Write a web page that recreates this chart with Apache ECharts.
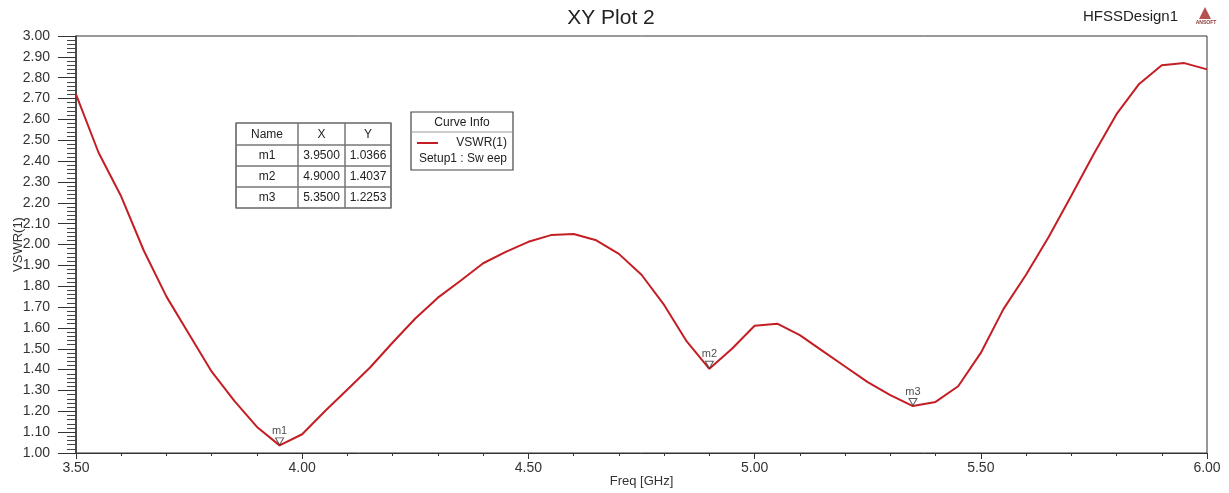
<!DOCTYPE html>
<html>
<head>
<meta charset="utf-8">
<script src="https://cdn.jsdelivr.net/npm/echarts@6/dist/echarts.min.js"></script>
<style>
html,body{margin:0;padding:0;background:#fff;}
#chart{width:1229px;height:493px;}
</style>
</head>
<body>
<div id="chart"></div>
<script>
// ---- data ----
var freq = [3.50,3.55,3.60,3.65,3.70,3.75,3.80,3.85,3.90,3.95,
            4.00,4.05,4.10,4.15,4.20,4.25,4.30,4.35,4.40,4.45,
            4.50,4.55,4.60,4.65,4.70,4.75,4.80,4.85,4.90,4.95,
            5.00,5.05,5.10,5.15,5.20,5.25,5.30,5.35,5.40,5.45,
            5.50,5.55,5.60,5.65,5.70,5.75,5.80,5.85,5.90,5.95,6.00];
var vswr = [2.72,2.44,2.23,1.97,1.75,1.57,1.39,1.25,1.125,1.0366,
            1.09,1.20,1.305,1.41,1.53,1.645,1.745,1.826,1.91,1.965,
            2.013,2.045,2.05,2.02,1.955,1.855,1.71,1.535,1.4037,1.50,
            1.61,1.62,1.565,1.49,1.415,1.34,1.278,1.2253,1.245,1.32,
            1.48,1.69,1.855,2.036,2.234,2.435,2.625,2.77,2.86,2.87,2.84];
var markerNames = ['m1','m2','m3'];
var markerX = [3.95, 4.90, 5.35];
var markerY = [1.0366, 1.4037, 1.2253];
var xTicks = ['3.50','4.00','4.50','5.00','5.50','6.00'];
var titleText = 'XY Plot 2';
var designText = 'HFSSDesign1';
var seriesName = 'VSWR(1)';
var sweepText = 'Setup1 : Sw eep';

var FONT = '"Liberation Sans", Arial, sans-serif';
var chart = echarts.init(document.getElementById('chart'), null, {renderer:'canvas'});

// marker table graphic
var tbl = [];
var tx = 236, ty = 123, colW = [62, 47, 46], rowH = [22, 21, 21, 21];
var rows = [['Name','X','Y']];
for (var i = 0; i < markerNames.length; i++) {
  rows.push([markerNames[i], markerX[i].toFixed(4), markerY[i].toFixed(4)]);
}
var totalW = colW[0]+colW[1]+colW[2];
var totalH = rowH[0]+rowH[1]+rowH[2]+rowH[3];
tbl.push({type:'rect', shape:{x:tx,y:ty,width:totalW,height:totalH}, style:{fill:'#fff',stroke:'#444',lineWidth:1.2}, z:100});
var yy = ty;
for (var r = 0; r < rows.length; r++) {
  var xx = tx;
  for (var c = 0; c < 3; c++) {
    tbl.push({type:'rect', shape:{x:xx,y:yy,width:colW[c],height:rowH[r]}, style:{fill:'none',stroke:'#777',lineWidth:1}, z:101});
    tbl.push({type:'text', z:102, style:{x:xx+colW[c]/2, y:yy+rowH[r]/2+0.5, text:rows[r][c], align:'center', verticalAlign:'middle', font:'12px '+FONT, fill:'#222'}});
    xx += colW[c];
  }
  yy += rowH[r];
}
// curve info box
var cb = {x:411, y:112, w:102, h:58};
tbl.push({type:'rect', shape:{x:cb.x,y:cb.y,width:cb.w,height:cb.h}, style:{fill:'#fff',stroke:'#444',lineWidth:1.2}, z:100});
tbl.push({type:'line', shape:{x1:cb.x,y1:cb.y+20,x2:cb.x+cb.w,y2:cb.y+20}, style:{stroke:'#999',lineWidth:1}, z:101});
tbl.push({type:'text', z:102, style:{x:cb.x+cb.w/2, y:cb.y+11, text:'Curve Info', align:'center', verticalAlign:'middle', font:'12px '+FONT, fill:'#222'}});
tbl.push({type:'line', shape:{x1:cb.x+6,y1:cb.y+31,x2:cb.x+27,y2:cb.y+31}, style:{stroke:'#c41e24',lineWidth:2}, z:101});
tbl.push({type:'text', z:102, style:{x:cb.x+cb.w-6, y:cb.y+31, text:seriesName, align:'right', verticalAlign:'middle', font:'12px '+FONT, fill:'#222'}});
tbl.push({type:'text', z:102, style:{x:cb.x+cb.w-6, y:cb.y+47, text:sweepText, align:'right', verticalAlign:'middle', font:'12px '+FONT, fill:'#222'}});
// title texts and logo
tbl.push({type:'text', z:102, style:{x:611, y:18, text:titleText, align:'center', verticalAlign:'middle', font:'21px '+FONT, fill:'#222'}});
tbl.push({type:'text', z:102, style:{x:1178, y:17, text:designText, align:'right', verticalAlign:'middle', font:'15px '+FONT, fill:'#222'}});
tbl.push({type:'polygon', z:102, shape:{points:[[1199,19],[1211,19],[1205,7]]}, style:{fill:'#b5524f'}});
tbl.push({type:'text', z:102, style:{x:1206, y:23, text:'ANSOFT', align:'center', verticalAlign:'middle', font:'bold 5px '+FONT, fill:'#8a3a38'}});

var lineData = freq.map(function(f,i){return [f, vswr[i]];});
var markData = markerX.map(function(x,i){return {value:[x, markerY[i]], name:markerNames[i]};});

chart.setOption({
  backgroundColor:'#fff',
  animation:false,
  textStyle:{fontFamily:FONT},
  grid:{left:76, right:22, top:36, bottom:40, containLabel:false, outerBoundsMode:'none', show:true, borderColor:'#333', borderWidth:1, backgroundColor:'transparent'},
  xAxis:{
    type:'value', min:3.5, max:6, interval:0.5,
    name:'Freq [GHz]', nameLocation:'middle', nameGap:22, nameMoveOverlap:false,
    nameTextStyle:{fontSize:13, color:'#333', fontFamily:FONT},
    axisLine:{show:true, onZero:false, lineStyle:{color:'#333', width:1}},
    axisTick:{show:true, length:6, lineStyle:{color:'#333'}},
    minorTick:{show:true, splitNumber:5, length:3, lineStyle:{color:'#333'}},
    splitLine:{show:false},
    axisLabel:{fontSize:14, color:'#333', margin:8, fontFamily:FONT, formatter:function(v){return v.toFixed(2);}}
  },
  yAxis:{
    type:'value', min:1, max:3, interval:0.1,
    name:'VSWR(1)', nameLocation:'middle', nameGap:51, nameRotate:90, nameMoveOverlap:false,
    nameTextStyle:{fontSize:13, color:'#333', fontFamily:FONT},
    axisLine:{show:true, onZero:false, lineStyle:{color:'#333', width:1.5}},
    axisTick:{show:true, length:18, lineStyle:{color:'#333'}},
    minorTick:{show:true, splitNumber:5, length:9, lineStyle:{color:'#444'}},
    splitLine:{show:false},
    axisLabel:{fontSize:14, color:'#333', margin:26, fontFamily:FONT, formatter:function(v){return v.toFixed(2);}}
  },
  series:[
    {type:'line', name:seriesName, data:lineData, showSymbol:false, symbol:'none',
     lineStyle:{color:'#c41e24', width:2}, z:3},
    {type:'scatter', data:markData, symbol:'path://M0,0 L10,0 L5,9 Z', symbolSize:[8,7], symbolOffset:[0,-4],
     itemStyle:{color:'#fff', borderColor:'#333', borderWidth:1}, z:4,
     label:{show:true, position:'top', distance:1, formatter:function(p){return p.name;}, fontSize:11, color:'#222', fontFamily:FONT}}
  ],
  graphic:tbl
});
</script>
</body>
</html>
